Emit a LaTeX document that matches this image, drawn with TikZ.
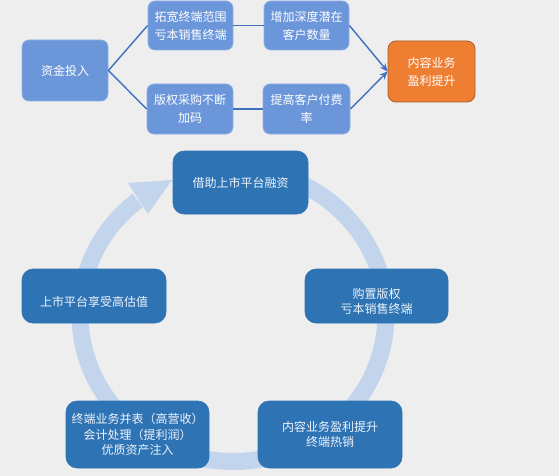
\documentclass[tikz,border=0pt]{standalone}
\usepackage{fontspec}
\newfontfamily\cjk{Noto Sans CJK SC}
\usetikzlibrary{arrows.meta}
\definecolor{bgc}{HTML}{EEEEEE}
\definecolor{topblue}{HTML}{6B96DA}
\definecolor{topedge}{HTML}{8EAFE4}
\definecolor{linkblue}{HTML}{4070C0}
\definecolor{orangef}{HTML}{EE7E32}
\definecolor{orangee}{HTML}{A85C26}
\definecolor{darkblue}{HTML}{2E74B5}
\definecolor{ringc}{HTML}{C3D5EC}
\definecolor{softwhite}{HTML}{EEF3FA}
\tikzset{
  topbox/.style={rectangle, rounded corners=7pt, fill=topblue, draw=topedge, line width=0.8pt,
    inner sep=0pt, align=center, text=white, font=\cjk\fontsize{12}{18}\selectfont},
  outbox/.style={rectangle, rounded corners=8pt, fill=orangef, draw=orangee, line width=0.8pt,
    inner sep=0pt, align=center, text=white, font=\cjk\fontsize{12}{18}\selectfont},
  cyclebox/.style={rectangle, rounded corners=11pt, fill=darkblue, draw=darkblue, line width=0.6pt,
    inner sep=0pt, align=center, text=softwhite, font=\cjk\fontsize{12}{15.5}\selectfont},
  link/.style={draw=linkblue, line width=1.4pt},
  arrowlink/.style={link, -{Stealth[length=8pt,width=7pt]}},
  ring/.style={draw=ringc, line width=17pt}
}
\begin{document}
\begin{tikzpicture}[x=1pt,y=-1pt]
\fill[bgc] (0,0) rectangle (559,476);
\useasboundingbox (0,0) rectangle (559,476);

% ---- top flow ----
\node[topbox, minimum width=86pt, minimum height=61pt] (invest) at (65,70.5) {资金投入};
\node[topbox, minimum width=85pt, minimum height=49pt] (t1) at (190.5,25.5) {拓宽终端范围\\亏本销售终端};
\node[topbox, minimum width=85pt, minimum height=49pt] (t2) at (306.5,25.5) {增加深度潜在\\客户数量};
\node[topbox, minimum width=86pt, minimum height=50pt] (b1) at (190,109) {版权采购不断\\加码};
\node[topbox, minimum width=87pt, minimum height=50pt] (b2) at (306.5,109) {提高客户付费\\率};
\node[outbox, minimum width=87pt, minimum height=61pt] (out) at (431.5,71.5) {内容业务\\盈利提升};

\draw[link] (invest.east) -- (t1.west);
\draw[link] (invest.east) -- (b1.west);
\draw[link] (t1.east) -- (t2.west);
\draw[link] (b1.east) -- (b2.west);
\draw[arrowlink] (t2.east) -- (out.west);
\draw[arrowlink] (b2.east) -- (out.west);

% ---- cycle ring ----
\coordinate (rc) at (233,315);
\draw[ring] (rc) ++(-128.5:153 and 146.5) arc[start angle=-128.5, end angle=-440, x radius=153, y radius=146.5];
\fill[ringc] (172,180) -- (128,183) -- (148,214) -- cycle;

% ---- cycle boxes ----
\node[cyclebox, minimum width=135pt, minimum height=63pt] (c1) at (240.5,182.5) {借助上市平台融资};
\node[cyclebox, minimum width=143pt, minimum height=54pt] (c2) at (376.5,296) {\rule{0pt}{21pt}购置版权\\亏本销售终端};
\node[cyclebox, minimum width=144pt, minimum height=67pt] (c3) at (330,434.5) {内容业务盈利提升\\终端热销};
\node[cyclebox, minimum width=143pt, minimum height=67pt] (c4) at (137.5,434.5) {终端业务并表（高营收）\\会计处理（提利润）\\优质资产注入};
\node[cyclebox, minimum width=144pt, minimum height=54pt] (c5) at (94,296) {\rule{0pt}{21pt}上市平台享受高估值};
\end{tikzpicture}
\end{document}
